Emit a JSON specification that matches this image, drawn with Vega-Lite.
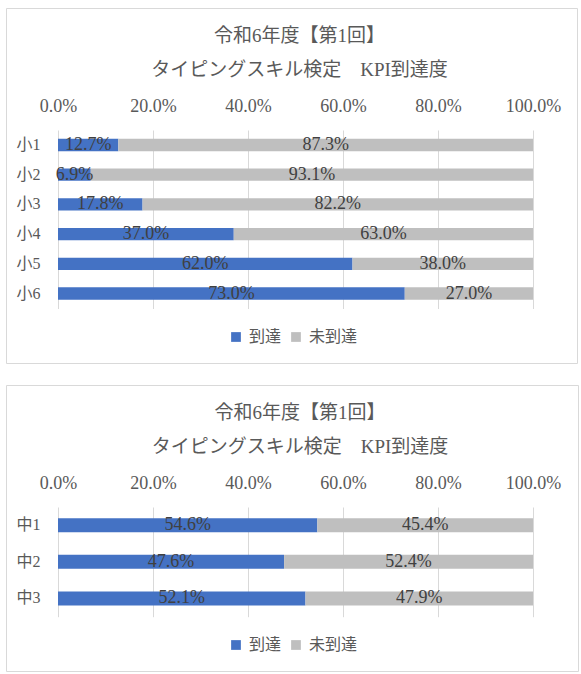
{
  "$schema": "https://vega.github.io/schema/vega-lite/v6.json",
  "padding": {"left": 5, "top": 7, "right": 0, "bottom": 0},
  "autosize": {"type": "pad"},
  "background": "white",
  "datasets": {
    "elementary": [
      {"grade": "小1", "status": "到達", "rate": 0.127},
      {"grade": "小1", "status": "未到達", "rate": 0.873},
      {"grade": "小2", "status": "到達", "rate": 0.069},
      {"grade": "小2", "status": "未到達", "rate": 0.931},
      {"grade": "小3", "status": "到達", "rate": 0.178},
      {"grade": "小3", "status": "未到達", "rate": 0.822},
      {"grade": "小4", "status": "到達", "rate": 0.37},
      {"grade": "小4", "status": "未到達", "rate": 0.63},
      {"grade": "小5", "status": "到達", "rate": 0.62},
      {"grade": "小5", "status": "未到達", "rate": 0.38},
      {"grade": "小6", "status": "到達", "rate": 0.73},
      {"grade": "小6", "status": "未到達", "rate": 0.27}
    ],
    "junior": [
      {"grade": "中1", "status": "到達", "rate": 0.546},
      {"grade": "中1", "status": "未到達", "rate": 0.454},
      {"grade": "中2", "status": "到達", "rate": 0.476},
      {"grade": "中2", "status": "未到達", "rate": 0.524},
      {"grade": "中3", "status": "到達", "rate": 0.521},
      {"grade": "中3", "status": "未到達", "rate": 0.479}
    ]
  },
  "spacing": 20,
  "vconcat": [
    {
      "width": 571,
      "height": 355,
      "title": {"text": ["令和6年度【第1回】", "タイピングスキル検定　KPI到達度"], "offset": -72},
      "data": {"name": "elementary"},
      "encoding": {
        "y": {
          "field": "grade",
          "type": "nominal",
          "sort": null,
          "scale": {"range": [122, 300.5], "paddingInner": 0.586, "paddingOuter": 0.298},
          "axis": {"orient": "left", "offset": -34}
        }
      },
      "layer": [
        {
          "mark": {"type": "bar"},
          "encoding": {
            "x": {
              "field": "rate",
              "type": "quantitative",
              "stack": "zero",
              "scale": {"domain": [0, 1], "range": [52, 527], "nice": false},
              "axis": {"orient": "top", "offset": -107, "values": [0, 0.2, 0.4, 0.6, 0.8, 1], "format": ".1%"}
            },
            "color": {
              "field": "status",
              "type": "nominal",
              "scale": {"domain": ["到達", "未到達"], "range": ["#4472c4", "#bfbfbf"]},
              "legend": {"orient": "none", "legendX": 222, "legendY": 321}
            },
            "order": {"field": "status", "sort": "ascending"}
          }
        },
        {
          "mark": {"type": "text", "fontSize": 18, "color": "#404040", "baseline": "middle"},
          "encoding": {
            "x": {"field": "rate", "type": "quantitative", "stack": "zero", "bandPosition": 0.5},
            "detail": {"field": "status"},
            "order": {"field": "status", "sort": "ascending"},
            "text": {"field": "rate", "type": "quantitative", "format": ".1%"}
          }
        }
      ]
    },
    {
      "width": 572,
      "height": 286,
      "title": {"text": ["令和6年度【第1回】", "タイピングスキル検定　KPI到達度"], "offset": -72},
      "data": {"name": "junior"},
      "encoding": {
        "y": {
          "field": "grade",
          "type": "nominal",
          "sort": null,
          "scale": {"range": [122, 231.7], "paddingInner": 0.618, "paddingOuter": 0.306},
          "axis": {"orient": "left", "offset": -34}
        }
      },
      "layer": [
        {
          "mark": {"type": "bar"},
          "encoding": {
            "x": {
              "field": "rate",
              "type": "quantitative",
              "stack": "zero",
              "scale": {"domain": [0, 1], "range": [52, 527], "nice": false},
              "axis": {"orient": "top", "offset": -107, "values": [0, 0.2, 0.4, 0.6, 0.8, 1], "format": ".1%"}
            },
            "color": {
              "field": "status",
              "type": "nominal",
              "scale": {"domain": ["到達", "未到達"], "range": ["#4472c4", "#bfbfbf"]},
              "legend": {"orient": "none", "legendX": 222, "legendY": 252}
            },
            "order": {"field": "status", "sort": "ascending"}
          }
        },
        {
          "mark": {"type": "text", "fontSize": 18, "color": "#404040", "baseline": "middle"},
          "encoding": {
            "x": {"field": "rate", "type": "quantitative", "stack": "zero", "bandPosition": 0.5},
            "detail": {"field": "status"},
            "order": {"field": "status", "sort": "ascending"},
            "text": {"field": "rate", "type": "quantitative", "format": ".1%"}
          }
        }
      ]
    }
  ],
  "resolve": {
    "scale": {"x": "independent", "y": "independent"},
    "legend": {"color": "independent"}
  },
  "config": {
    "font": "Liberation Serif, Noto Sans CJK JP",
    "view": {"stroke": "#d9d9d9", "strokeWidth": 1},
    "title": {
      "anchor": "middle",
      "frame": "group",
      "fontSize": 19,
      "fontWeight": "normal",
      "color": "#595959",
      "lineHeight": 34,
      "dx": 8
    },
    "axis": {
      "title": null,
      "domain": false,
      "ticks": false,
      "tickSize": 0,
      "labelPadding": 0,
      "labelColor": "#595959",
      "labelFlush": false,
      "labelOverlap": false
    },
    "axisX": {"grid": true, "gridColor": "#d9d9d9", "labelFontSize": 18},
    "axisY": {"grid": false, "labelFontSize": 16},
    "legend": {
      "title": null,
      "direction": "horizontal",
      "symbolType": "square",
      "symbolSize": 95,
      "symbolStrokeWidth": 0,
      "symbolOpacity": 1,
      "labelFontSize": 16,
      "labelColor": "#595959",
      "labelOffset": 5,
      "columnPadding": 6
    }
  }
}
